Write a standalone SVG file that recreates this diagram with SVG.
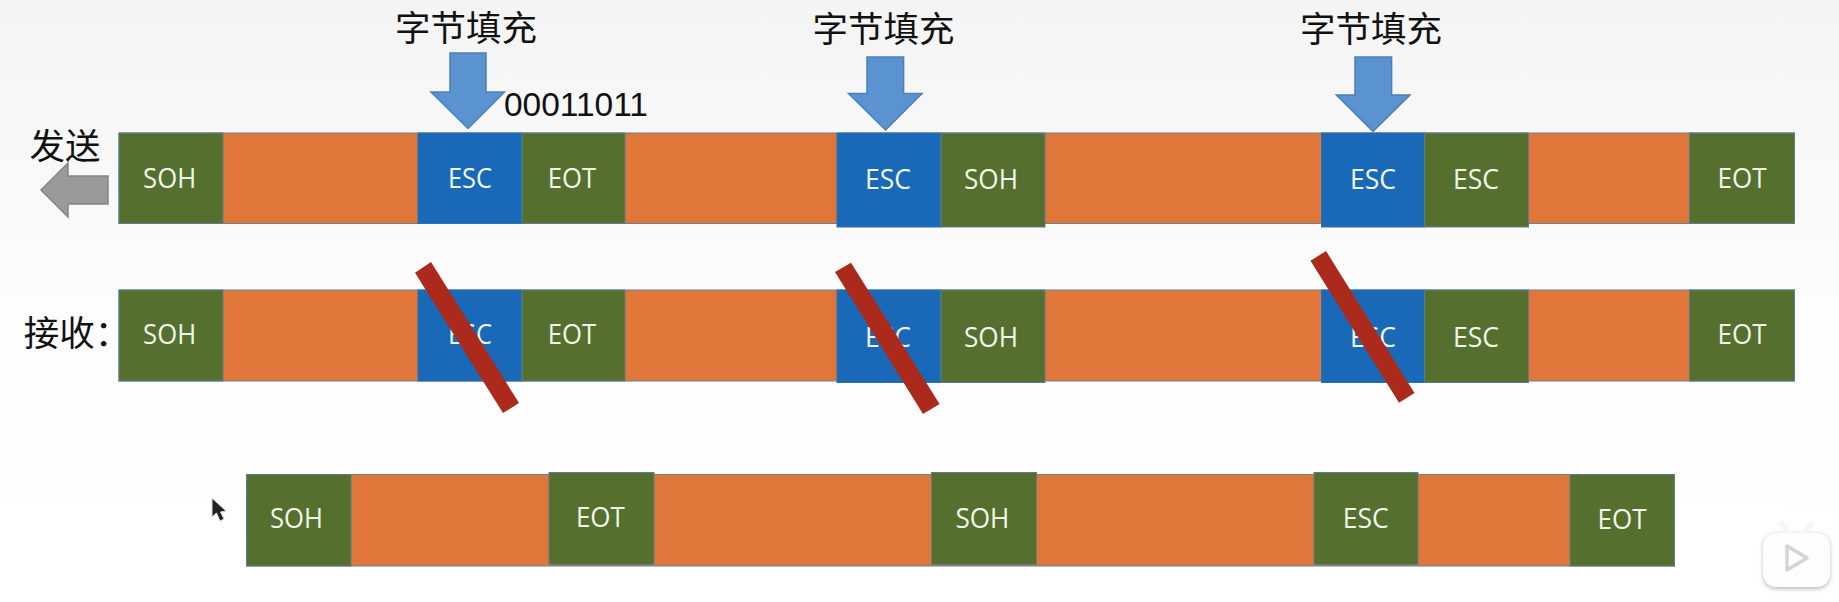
<svg xmlns="http://www.w3.org/2000/svg" width="1839" height="602" viewBox="0 0 1839 602">
<defs>
<linearGradient id="bg" x1="0" y1="0" x2="0" y2="1"><stop offset="0" stop-color="#f4f4f4"/><stop offset="0.55" stop-color="#fdfdfd"/><stop offset="1" stop-color="#ffffff"/></linearGradient>
<filter id="soft" x="-20%" y="-20%" width="140%" height="140%"><feGaussianBlur stdDeviation="2"/></filter>
</defs>
<style>
.o{fill:#e07639;stroke:#6f7f90;stroke-width:1}
.g{fill:#55702e;stroke:#5f7d8f;stroke-width:1}
.b{fill:#1a69b8;stroke:#2f6fae;stroke-width:1}
.t{font-family:"Open Sans","Noto Sans",sans-serif;font-size:28px;fill:#f1f6ea;text-anchor:middle}
.c{font-family:"Noto Sans CJK SC",sans-serif;font-weight:400;font-size:35.5px;fill:#111;text-anchor:middle}
.d{fill:#5a93cf;stroke:#4b80b8;stroke-width:1.5}
.r{fill:#ab2a1c}
</style>
<rect width="1839" height="602" fill="url(#bg)"/>

<g id="row-send">
<rect class="o" x="119" y="133" width="1675.5" height="90.5"/>
<g id="s-soh1"><rect class="g" x="119" y="133" width="104" height="90.5"/><text class="t" x="169.6" y="187.5" textLength="53" lengthAdjust="spacingAndGlyphs">SOH</text></g>
<g id="s-esc1"><rect class="b" x="418" y="133" width="104" height="90.5"/><text class="t" x="470" y="187.5" textLength="44" lengthAdjust="spacingAndGlyphs">ESC</text></g>
<g id="s-eot1"><rect class="g" x="522" y="133" width="103" height="90.5"/><text class="t" x="572" y="187.5" textLength="48.5" lengthAdjust="spacingAndGlyphs">EOT</text></g>
<g id="s-esc2"><rect class="b" x="837" y="133" width="104" height="94"/><text class="t" x="888" y="189" textLength="46" lengthAdjust="spacingAndGlyphs">ESC</text></g>
<g id="s-soh2"><rect class="g" x="941" y="133" width="104" height="94"/><text class="t" x="991" y="189" textLength="54" lengthAdjust="spacingAndGlyphs">SOH</text></g>
<g id="s-esc3"><rect class="b" x="1321.5" y="133" width="103" height="94"/><text class="t" x="1373" y="189" textLength="46" lengthAdjust="spacingAndGlyphs">ESC</text></g>
<g id="s-esc4"><rect class="g" x="1424.5" y="133" width="104" height="94"/><text class="t" x="1476" y="189" textLength="46" lengthAdjust="spacingAndGlyphs">ESC</text></g>
<g id="s-eot2"><rect class="g" x="1689.5" y="133" width="105" height="90.5"/><text class="t" x="1742" y="187.5" textLength="49" lengthAdjust="spacingAndGlyphs">EOT</text></g>
</g>

<g id="row-recv">
<rect class="o" x="119" y="290" width="1675.5" height="91"/>
<g id="r-soh1"><rect class="g" x="119" y="290" width="104" height="91"/><text class="t" x="169.6" y="343.5" textLength="53" lengthAdjust="spacingAndGlyphs">SOH</text></g>
<g id="r-esc1"><rect class="b" x="418" y="290" width="104" height="91"/><text class="t" x="470" y="343.5" textLength="44" lengthAdjust="spacingAndGlyphs">ESC</text></g>
<g id="r-eot1"><rect class="g" x="522" y="290" width="103" height="91"/><text class="t" x="572" y="343.5" textLength="48.5" lengthAdjust="spacingAndGlyphs">EOT</text></g>
<g id="r-esc2"><rect class="b" x="837" y="290" width="104" height="92.5"/><text class="t" x="888" y="346.5" textLength="46" lengthAdjust="spacingAndGlyphs">ESC</text></g>
<g id="r-soh2"><rect class="g" x="941" y="290" width="104" height="92.5"/><text class="t" x="991" y="346.5" textLength="54" lengthAdjust="spacingAndGlyphs">SOH</text></g>
<g id="r-esc3"><rect class="b" x="1321.5" y="290" width="103" height="92.5"/><text class="t" x="1373" y="346.5" textLength="46" lengthAdjust="spacingAndGlyphs">ESC</text></g>
<g id="r-esc4"><rect class="g" x="1424.5" y="290" width="104" height="92.5"/><text class="t" x="1476" y="346.5" textLength="46" lengthAdjust="spacingAndGlyphs">ESC</text></g>
<g id="r-eot2"><rect class="g" x="1689.5" y="290" width="105" height="91"/><text class="t" x="1742" y="343.5" textLength="49" lengthAdjust="spacingAndGlyphs">EOT</text></g>
</g>

<g id="row-result">
<rect class="o" x="246.5" y="474.5" width="1428" height="91.5"/>
<g id="x-soh1"><rect class="g" x="246.5" y="474.5" width="104.5" height="91.5"/><text class="t" x="296.4" y="528" textLength="53" lengthAdjust="spacingAndGlyphs">SOH</text></g>
<g id="x-eot1"><rect class="g" x="549" y="472.5" width="105" height="92"/><text class="t" x="600.4" y="526.5" textLength="49" lengthAdjust="spacingAndGlyphs">EOT</text></g>
<g id="x-soh2"><rect class="g" x="931.5" y="472.5" width="105" height="92"/><text class="t" x="982.4" y="527.5" textLength="54" lengthAdjust="spacingAndGlyphs">SOH</text></g>
<g id="x-esc"><rect class="g" x="1314" y="472.5" width="104" height="92"/><text class="t" x="1365.7" y="527.5" textLength="46" lengthAdjust="spacingAndGlyphs">ESC</text></g>
<g id="x-eot2"><rect class="g" x="1570" y="474.5" width="104.5" height="91.5"/><text class="t" x="1622" y="528.5" textLength="49" lengthAdjust="spacingAndGlyphs">EOT</text></g>
</g>

<g id="stuff-1"><text class="c" x="466" y="41">字节填充</text><polygon class="d" points="450,53 486,53 486,92 504.5,92 468,128.5 431,92 450,92"/></g>
<g id="stuff-2"><text class="c" x="883.5" y="42">字节填充</text><polygon class="d" points="867,57 903.6,57 903.6,93.5 922,93.5 885.6,130 848.5,93.5 867,93.5"/></g>
<g id="stuff-3"><text class="c" x="1371" y="42">字节填充</text><polygon class="d" points="1355,57 1391.6,57 1391.6,95 1410,95 1373,131.5 1336.4,95 1355,95"/></g>

<text id="bits" x="504" y="116" font-family="'Liberation Sans',sans-serif" font-size="33" fill="#111" textLength="144" lengthAdjust="spacingAndGlyphs">00011011</text>

<g id="send-label"><text class="c" x="65" y="159">发送</text><polygon points="41,190 68,163 68,176 108,176 108,204 68,204 68,217" fill="#9a9a9a" stroke="#858585" stroke-width="1.5"/></g>
<text id="recv-label" class="c" x="77" y="346">接收：</text>

<g id="strikes">
<polygon class="r" points="415,272.7 431,262 519,403 503,413"/>
<polygon class="r" points="835,272 851,262.7 939.6,404 923,414"/>
<polygon class="r" points="1310.5,260.8 1326,251 1414.5,393 1399,402.7"/>
</g>

<g id="cursor"><polygon points="212,498 212,517 216.5,513 220,521 224,519 220.5,512 226,511" fill="#222" stroke="#ddd" stroke-width="1"/></g>

<g id="watermark">
<rect x="1763" y="534" width="67" height="55" rx="13" fill="#bdbdbd" filter="url(#soft)"/>
<path d="M1782 524 L1790 534 M1811 524 L1803 534" stroke="#f6f6f6" stroke-width="6" stroke-linecap="round"/>
<rect x="1763" y="533" width="67" height="54" rx="13" fill="#fdfdfd"/>
<path d="M1787 546 L1807 558 L1787 570 Z" fill="#ffffff" stroke="#d4d4d4" stroke-width="3.5" stroke-linejoin="round"/>
</g>
</svg>
